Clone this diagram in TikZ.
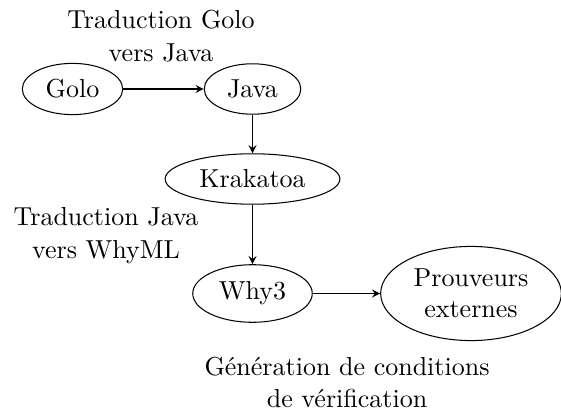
\documentclass[tikz,border=0pt]{standalone}
\usetikzlibrary{shapes.geometric,arrows}
\begin{document}
\begin{tikzpicture}[x=0.3846pt,y=-0.3846pt,
  el/.style={draw,ellipse,align=center},
  lab/.style={align=center,inner sep=0pt,anchor=north},
  arr/.style={-stealth}]
\useasboundingbox (0,0) rectangle (561,412);
\node[el] (golo) at (72.5,89) {Golo};
\node[el] (java) at (252.5,89) {Java};
\node[el] (krak) at (252.5,179) {Krakatoa};
\node[el] (why) at (252.5,293.5) {Why3};
\node[el,inner xsep=2.5pt] (prov) at (471,293.5) {Prouveurs\\externes};
\node[lab] (l1) at (161,10) {Traduction Golo\\[0.5pt]vers Java};
\node[lab] (l2) at (106,207) {Traduction Java\\[0.5pt]vers WhyML};
\node[lab] (l3) at (347,357) {Génération de conditions\\de vérification};
\draw[arr] (golo) -- (java);
\draw[arr] (java) -- (krak);
\draw[arr] (krak) -- (why);
\draw[arr] (why) -- (prov);
\end{tikzpicture}
\end{document}
